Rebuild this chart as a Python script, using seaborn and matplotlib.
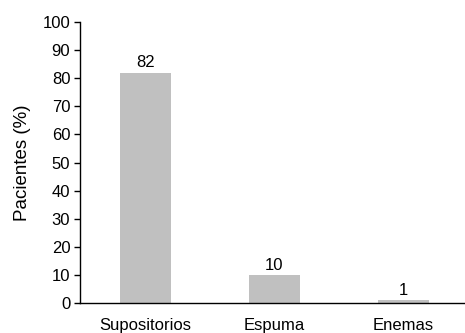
import matplotlib
matplotlib.use("Agg")
import matplotlib.pyplot as plt
import seaborn as sns
import pandas as pd

categories = ["Supositorios", "Espuma", "Enemas"]
values = [82, 10, 1]
yticks = list(range(0, 101, 10))

sns.set_style("white")
plt.rcParams['font.family'] = ['Liberation Sans', 'DejaVu Sans']
plt.rcParams['text.color'] = 'black'
plt.rcParams['axes.labelcolor'] = 'black'
plt.rcParams['xtick.color'] = 'black'
plt.rcParams['ytick.color'] = 'black'

df = pd.DataFrame({"cat": categories, "val": values})

fig = plt.figure(figsize=(4.65, 3.33), dpi=100)
ax = fig.add_axes([0.172, 0.09, 0.826, 0.844])
sns.barplot(data=df, x="cat", y="val", color="#c0c0c0", width=0.395, ax=ax,
            saturation=1, edgecolor="none")
for i, v in enumerate(values):
    ax.text(i, v + 0.8, str(v), ha="center", va="bottom", fontsize=12, color="black")

ax.set_ylim(0, 100)
ax.set_xlim(-0.508, 2.47)
ax.set_yticks(yticks)
ax.set_xlabel("")
ax.set_ylabel("Pacientes (%)", fontsize=13.5, labelpad=8)
ax.tick_params(axis="y", which="both", left=True, length=4, width=1, labelsize=12, pad=3,
               color="black", labelcolor="black")
ax.tick_params(axis="x", bottom=False, labelsize=12, pad=7, labelcolor="black")
sns.despine(ax=ax)
for s in ["left", "bottom"]:
    ax.spines[s].set_color("black")
    ax.spines[s].set_linewidth(1)
fig.savefig("out.png", dpi=100)
